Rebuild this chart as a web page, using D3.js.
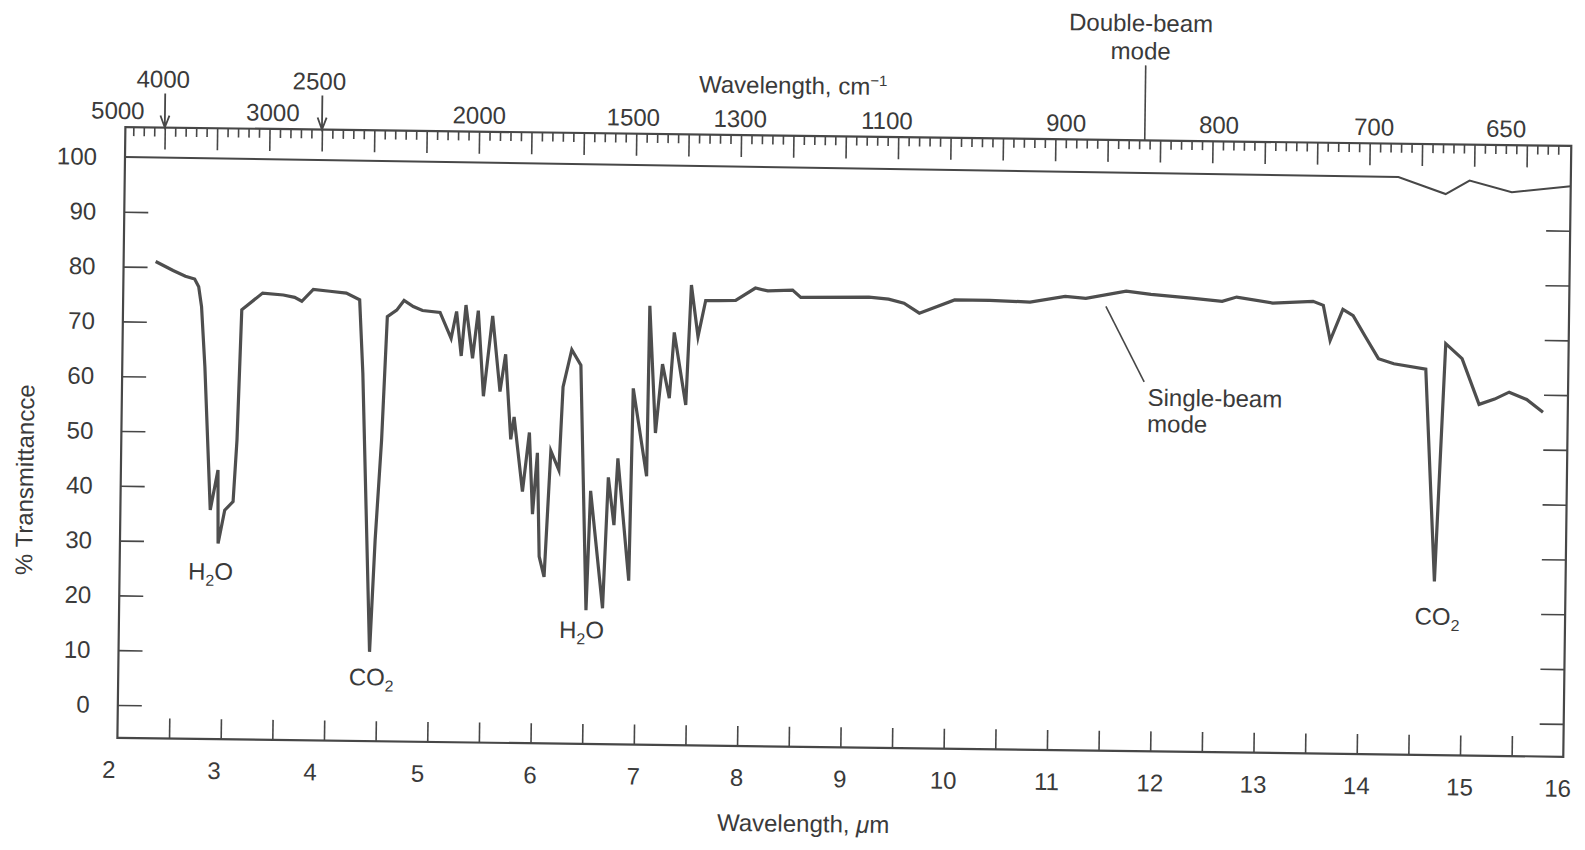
<!DOCTYPE html>
<html>
<head>
<meta charset="utf-8">
<script src="https://cdn.jsdelivr.net/npm/d3@7"></script>
<style>
  body { margin: 0; background: #fff; overflow: hidden; }
  svg { display: block; font-family: "Liberation Sans", Arial, sans-serif; }
  text { fill: #3a3a3a; }
</style>
</head>
<body>
<svg id="chart" width="1585" height="850"></svg>
<script>
// single-beam trace: wavelength (µm) and % transmittance
const singleWl = [2.31, 2.48, 2.60, 2.69, 2.73, 2.76, 2.80, 2.87, 2.94, 2.95, 3.01, 3.09, 3.12, 3.15,
  3.35, 3.55, 3.66, 3.73, 3.84, 4.00, 4.16, 4.29, 4.33, 4.43, 4.47, 4.52, 4.56, 4.65, 4.72, 4.81,
  4.90, 5.07, 5.18, 5.23, 5.28, 5.32, 5.39, 5.44, 5.50, 5.58, 5.66, 5.71, 5.77, 5.80, 5.89, 5.95,
  5.99, 6.03, 6.06, 6.11, 6.16, 6.24, 6.27, 6.35, 6.44, 6.52, 6.55, 6.68, 6.72, 6.78, 6.81, 6.93,
  6.95, 7.09, 7.10, 7.17, 7.23, 7.30, 7.34, 7.46, 7.50, 7.57, 7.64, 7.77, 7.93, 8.12, 8.24, 8.48,
  8.56, 9.22, 9.41, 9.56, 9.71, 10.05, 10.39, 10.78, 11.12, 11.32, 11.71, 11.95, 12.34, 12.64,
  12.78, 13.13, 13.52, 13.62, 13.69, 13.81, 13.91, 14.03, 14.16, 14.31, 14.62, 14.73, 14.81,
  14.97, 15.14, 15.29, 15.43, 15.60, 15.76];
const singleT = [81.0, 79.4, 78.4, 77.9, 76.5, 72.9, 61.9, 35.8, 43.1, 29.7, 35.8, 37.4, 48.6, 72.4,
  75.5, 75.2, 74.8, 74.1, 76.3, 76.0, 75.7, 74.5, 61.1, 10.3, 30.7, 49.0, 71.5, 72.7, 74.5, 73.4,
  72.7, 72.4, 67.7, 72.6, 64.5, 73.8, 64.1, 72.8, 57.2, 71.9, 58.1, 64.9, 49.4, 53.5, 39.9, 50.7,
  35.8, 47.0, 28.1, 24.4, 47.4, 43.9, 59.1, 65.9, 63.1, 18.4, 40.2, 18.8, 42.7, 34.0, 46.2, 23.9,
  59.0, 43.0, 74.1, 50.9, 63.5, 57.3, 69.3, 56.1, 78.0, 68.6, 75.2, 75.2, 75.3, 77.6, 77.1, 77.3,
  76.0, 76.2, 75.9, 75.2, 73.4, 75.9, 75.9, 75.7, 76.8, 76.5, 77.9, 77.4, 76.8, 76.3,
  77.1, 76.1, 76.5, 75.8, 69.4, 75.1, 74.0, 70.2, 66.2, 65.3, 64.4, 25.7, 69.1,
  66.4, 58.1, 59.1, 60.4, 59.1, 56.8];

// double-beam trace
const doubleWl = [2, 14.33, 14.79, 15.02, 15.43, 16];
const doubleT = [100, 99.4, 96.4, 98.9, 96.9, 98.1];

// axes
const yTicks = [0, 10, 20, 30, 40, 50, 60, 70, 80, 90, 100];
const xLabels = ['2', '3', '4', '5', '6', '7', '8', '9', '10', '11', '12', '13', '14', '15', '16'];
const xLabelPos = [1.92, 2.94, 3.87, 4.91, 6, 7, 8, 9, 10, 11, 12, 13, 14, 15, 15.95];

// top wavenumber scale (cm-1), placed on the top ruler as printed
const topLabels = ['5000', '4000', '3000', '2500', '2000', '1500', '1300', '1100', '900', '800', '700', '650'];
const topLabelPos = [2.05, 2.48, 3.53, 3.97, 5.50, 6.97, 7.99, 9.39, 11.10, 12.56, 14.04, 15.30];
const topRaised = ['4000', '2500'];
const arrowPos = [2.5, 4.0];

// band annotations
const bandNames = ['H2O', 'CO2', 'H2O', 'CO2'];
const bandWl = [2.88, 4.45, 6.48, 14.76];
const bandT = [24.6, 5.7, 14.8, 19.3];

const W = 1585, H = 850;
const INK = '#474747';

const x = d3.scaleLinear().domain([2, 16]).range([125, 1571]);
const xTop = d3.scaleLinear().domain([2, 16]).range([112, 1579]);
const y = d3.scaleLinear().domain([0, 100]).range([705, 157]);
const bottomY = y(-6);
const rulerY = y(100) - 30;

const svg = d3.select('#chart');
svg.append('rect').attr('width', W).attr('height', H).attr('fill', '#fff');

// the printed figure sits slightly rotated on the page
const g = svg.append('g').attr('transform', 'rotate(0.75, 124, 157)');

// frame
g.append('path')
  .attr('d', `M${x(2)},${rulerY}V${bottomY}H${x(16)}V${rulerY}Z`)
  .attr('fill', 'none').attr('stroke', INK).attr('stroke-width', 2.2);

function styleTicks(sel) {
  sel.select('.domain').remove();
  sel.selectAll('line').attr('stroke', INK).attr('stroke-width', 1.6);
}

// top ruler ticks
const rulerVals = d3.range(22, 159).map(d => d / 10);
const minor = rulerVals.filter(d => Math.round(d * 10) % 5 !== 0);
const major = rulerVals.filter(d => Math.round(d * 10) % 5 === 0);

g.append('g').attr('transform', `translate(0,${rulerY})`)
  .call(d3.axisBottom(xTop).tickValues(minor).tickSize(9).tickFormat(''))
  .call(styleTicks);
g.append('g').attr('transform', `translate(0,${rulerY})`)
  .call(d3.axisBottom(xTop).tickValues(major).tickSize(22).tickFormat(''))
  .call(styleTicks);

// bottom ticks (every 0.5 µm, pointing up)
g.append('g').attr('transform', `translate(0,${bottomY})`)
  .call(d3.axisTop(x).tickValues(d3.range(2.5, 16, 0.5)).tickSize(20).tickFormat(''))
  .call(styleTicks);

// left / right % ticks
g.append('g').attr('transform', `translate(${x(2)},0)`)
  .call(d3.axisRight(y).tickValues(yTicks.slice(0, -1)).tickSize(24).tickFormat(''))
  .call(styleTicks);
g.append('g').attr('transform', `translate(${x(16)},0)`)
  .call(d3.axisLeft(y).tickValues(yTicks.slice(0, -1)).tickSize(24).tickFormat(''))
  .call(styleTicks);

// y labels
g.append('g').attr('transform', `translate(${x(2)},0)`)
  .call(d3.axisLeft(y).tickValues(yTicks).tickSize(0).tickPadding(28))
  .call(sel => {
    sel.select('.domain').remove();
    sel.selectAll('text').attr('font-size', 24).attr('fill', '#3a3a3a')
      .attr('font-family', '"Liberation Sans", Arial, sans-serif');
  });

g.append('text')
  .attr('transform', `translate(29,481) rotate(-90)`)
  .attr('text-anchor', 'middle').attr('dy', '0.35em')
  .attr('font-size', 24)
  .text('% Transmittancce');

// bottom labels
g.append('g').selectAll('text')
  .data(xLabels)
  .join('text')
  .attr('x', (d, i) => x(xLabelPos[i]))
  .attr('y', bottomY + 40)
  .attr('text-anchor', 'middle')
  .attr('font-size', 24)
  .text(d => d);

const xTitle = g.append('text')
  .attr('x', x(8.65)).attr('y', 823)
  .attr('text-anchor', 'middle').attr('font-size', 24);
xTitle.append('tspan').text('Wavelength, ');
xTitle.append('tspan').attr('font-style', 'italic').text('\u03bc');
xTitle.append('tspan').text('m');

// top labels
g.append('g').selectAll('text')
  .data(topLabels)
  .join('text')
  .attr('x', (d, i) => xTop(topLabelPos[i]))
  .attr('y', d => topRaised.includes(d) ? 87 : rulerY - 8)
  .attr('text-anchor', 'middle')
  .attr('font-size', 24)
  .text(d => d);

// arrows for 4000 and 2500
arrowPos.forEach(p => {
  const ax = xTop(p);
  g.append('path')
    .attr('d', `M${ax},${93}V${rulerY}M${ax - 4.5},${rulerY - 12}L${ax},${rulerY}L${ax + 4.5},${rulerY - 12}`)
    .attr('fill', 'none').attr('stroke', INK).attr('stroke-width', 1.8);
});

const topTitle = g.append('text')
  .attr('x', x(8.46)).attr('y', 85)
  .attr('text-anchor', 'middle').attr('font-size', 24);
topTitle.append('tspan').text('Wavelength, cm');
topTitle.append('tspan').attr('font-size', 15).attr('dy', -9).text('\u22121');

// double-beam annotation
g.append('text').attr('x', x(11.82)).attr('y', 18)
  .attr('text-anchor', 'middle').attr('font-size', 24).text('Double-beam');
g.append('text').attr('x', x(11.82)).attr('y', 46)
  .attr('text-anchor', 'middle').attr('font-size', 24).text('mode');
g.append('line')
  .attr('x1', x(11.87)).attr('x2', x(11.87))
  .attr('y1', 52).attr('y2', rulerY)
  .attr('stroke', INK).attr('stroke-width', 1.6);

// traces
const line = d3.line().x(d => x(d[0])).y(d => y(d[1]));

g.append('path')
  .datum(doubleWl.map((d, i) => [d, doubleT[i]]))
  .attr('d', line)
  .attr('fill', 'none').attr('stroke', INK).attr('stroke-width', 2);

g.append('path')
  .datum(singleWl.map((d, i) => [d, singleT[i]]))
  .attr('d', line)
  .attr('fill', 'none').attr('stroke', '#4e4e4e').attr('stroke-width', 3.2)
  .attr('stroke-linejoin', 'miter').attr('stroke-miterlimit', 6);

// single-beam annotation
g.append('line')
  .attr('x1', x(11.515)).attr('y1', y(75.1))
  .attr('x2', x(11.895)).attr('y2', y(61.4))
  .attr('stroke', INK).attr('stroke-width', 1.6);
g.append('text').attr('x', x(11.93)).attr('y', y(58.6)).attr('dy', '0.35em')
  .attr('font-size', 24).text('Single-beam');
g.append('text').attr('x', x(11.93)).attr('y', y(53.8)).attr('dy', '0.35em')
  .attr('font-size', 24).text('mode');

// band labels with subscript 2
bandNames.forEach((name, i) => {
  const t = g.append('text')
    .attr('x', x(bandWl[i])).attr('y', y(bandT[i])).attr('dy', '0.35em')
    .attr('text-anchor', 'middle').attr('font-size', 24);
  if (name === 'H2O') {
    t.append('tspan').text('H');
    t.append('tspan').attr('font-size', 16).attr('dy', 6).text('2');
    t.append('tspan').attr('dy', -6).text('O');
  } else {
    t.append('tspan').text('CO');
    t.append('tspan').attr('font-size', 16).attr('dy', 6).text('2');
  }
});
</script>
</body>
</html>
